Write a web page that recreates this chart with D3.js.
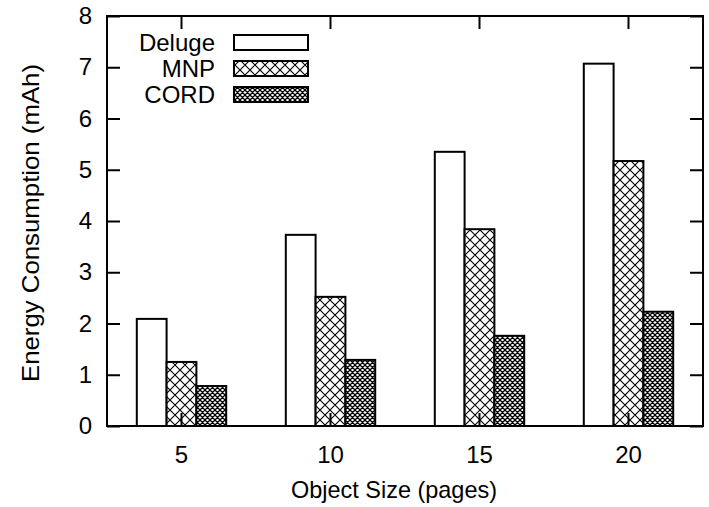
<!DOCTYPE html>
<html>
<head>
<meta charset="utf-8">
<script src="https://cdn.jsdelivr.net/npm/d3@7"></script>
<style>
html,body{margin:0;padding:0;background:#fff;}
text{font-family:"Liberation Sans",Arial,sans-serif;fill:#000;}
</style>
</head>
<body>
<svg id="chart" width="709" height="507"></svg>
<script>
const categories = ["5", "10", "15", "20"];
const seriesNames = ["Deluge", "MNP", "CORD"];
const deluge = [2.09, 3.73, 5.35, 7.07];
const mnp = [1.25, 2.52, 3.84, 5.17];
const cord = [0.78, 1.29, 1.76, 2.23];
const yTicks = [0, 1, 2, 3, 4, 5, 6, 7, 8];
const xTitle = "Object Size (pages)";
const yTitle = "Energy Consumption (mAh)";

const W = 709, H = 507;
const m = {left: 107, top: 16, right: 6, bottom: 81};
const svg = d3.select("#chart");
const defs = svg.append("defs");

// patterns
const p1 = defs.append("pattern").attr("id","hatchMNP").attr("patternUnits","userSpaceOnUse")
  .attr("width",10).attr("height",10);
p1.append("rect").attr("width",10).attr("height",10).attr("fill","#fff");
p1.append("path").attr("d","M0,0L10,10M10,0L0,10M-5,5L0,10M5,-5L15,5M-5,5L5,-5M5,15L15,5")
  .attr("stroke","#000").attr("stroke-width",1.1).attr("fill","none");
const p2 = defs.append("pattern").attr("id","hatchCORD").attr("patternUnits","userSpaceOnUse")
  .attr("width",5).attr("height",5);
p2.append("rect").attr("width",5).attr("height",5).attr("fill","#fff");
p2.append("path").attr("d","M0,0L5,5M5,0L0,5M-2.5,2.5L0,5M2.5,-2.5L7.5,2.5M-2.5,2.5L2.5,-2.5M2.5,7.5L7.5,2.5")
  .attr("stroke","#000").attr("stroke-width",1.3).attr("fill","none");
const fills = ["#fff", "url(#hatchMNP)", "url(#hatchCORD)"];

const x = d3.scaleBand().domain(categories).range([m.left, W - m.right]).padding(0);
const y = d3.scaleLinear().domain([0, 8]).range([H - m.bottom, m.top]);
const xs = d3.scaleBand().domain(seriesNames).range([0, x.bandwidth()]).paddingInner(0).paddingOuter(1);

const series = [deluge, mnp, cord];
const rows = [];
categories.forEach((c, i) => seriesNames.forEach((s, j) => rows.push({c, s, j, v: series[j][i]})));

svg.append("g").selectAll("rect").data(rows).join("rect")
  .attr("x", d => x(d.c) + xs(d.s))
  .attr("width", xs.bandwidth())
  .attr("y", d => y(d.v))
  .attr("height", d => y(0) - y(d.v))
  .attr("fill", d => fills[d.j])
  .attr("stroke", "#000").attr("stroke-width", 2);

const tickLen = 13;
const yAxisL = d3.axisLeft(y).tickValues(yTicks).tickSize(-tickLen).tickPadding(15).tickFormat(d3.format("d"));
const gl = svg.append("g").attr("transform", `translate(${m.left},0)`).call(yAxisL);
const yAxisR = d3.axisRight(y).tickValues(yTicks).tickSize(-tickLen).tickFormat("");
const gr = svg.append("g").attr("transform", `translate(${W - m.right},0)`).call(yAxisR);
const xAxisB = d3.axisBottom(x).tickSize(-tickLen).tickPadding(20);
const gb = svg.append("g").attr("transform", `translate(0,${H - m.bottom})`).call(xAxisB);
const xAxisT = d3.axisTop(x).tickSize(-tickLen).tickFormat("");
const gt = svg.append("g").attr("transform", `translate(0,${m.top})`).call(xAxisT);
[gl, gr, gb, gt].forEach(g => {
  g.select(".domain").remove();
  g.selectAll("line").attr("stroke", "#000").attr("stroke-width", 2);
  g.selectAll("text").attr("font-size", 24).style("font-family", '"Liberation Sans",Arial,sans-serif').attr("fill","#000");
});
svg.append("rect").attr("x", m.left).attr("y", m.top)
  .attr("width", W - m.left - m.right).attr("height", H - m.top - m.bottom)
  .attr("fill", "none").attr("stroke", "#000").attr("stroke-width", 2);

svg.append("text").attr("x", 394).attr("y", 498)
  .attr("text-anchor", "middle").attr("font-size", 24)
  .attr("textLength", 206).attr("lengthAdjust", "spacingAndGlyphs").text(xTitle);
svg.append("text").attr("transform", `translate(39,223) rotate(-90)`)
  .attr("text-anchor", "middle").attr("font-size", 24)
  .attr("textLength", 318).attr("lengthAdjust", "spacingAndGlyphs").text(yTitle);

// legend
const lg = svg.append("g");
seriesNames.forEach((s, j) => {
  const cy = 42.5 + j * 26;
  lg.append("text").attr("x", 215).attr("y", cy).attr("dy", "0.35em")
    .attr("text-anchor", "end").attr("font-size", 24).text(s);
  lg.append("rect").attr("x", 234).attr("y", cy - 7.5).attr("width", 74).attr("height", 15)
    .attr("fill", fills[j]).attr("stroke", "#000").attr("stroke-width", 2);
});
</script>
</body>
</html>
